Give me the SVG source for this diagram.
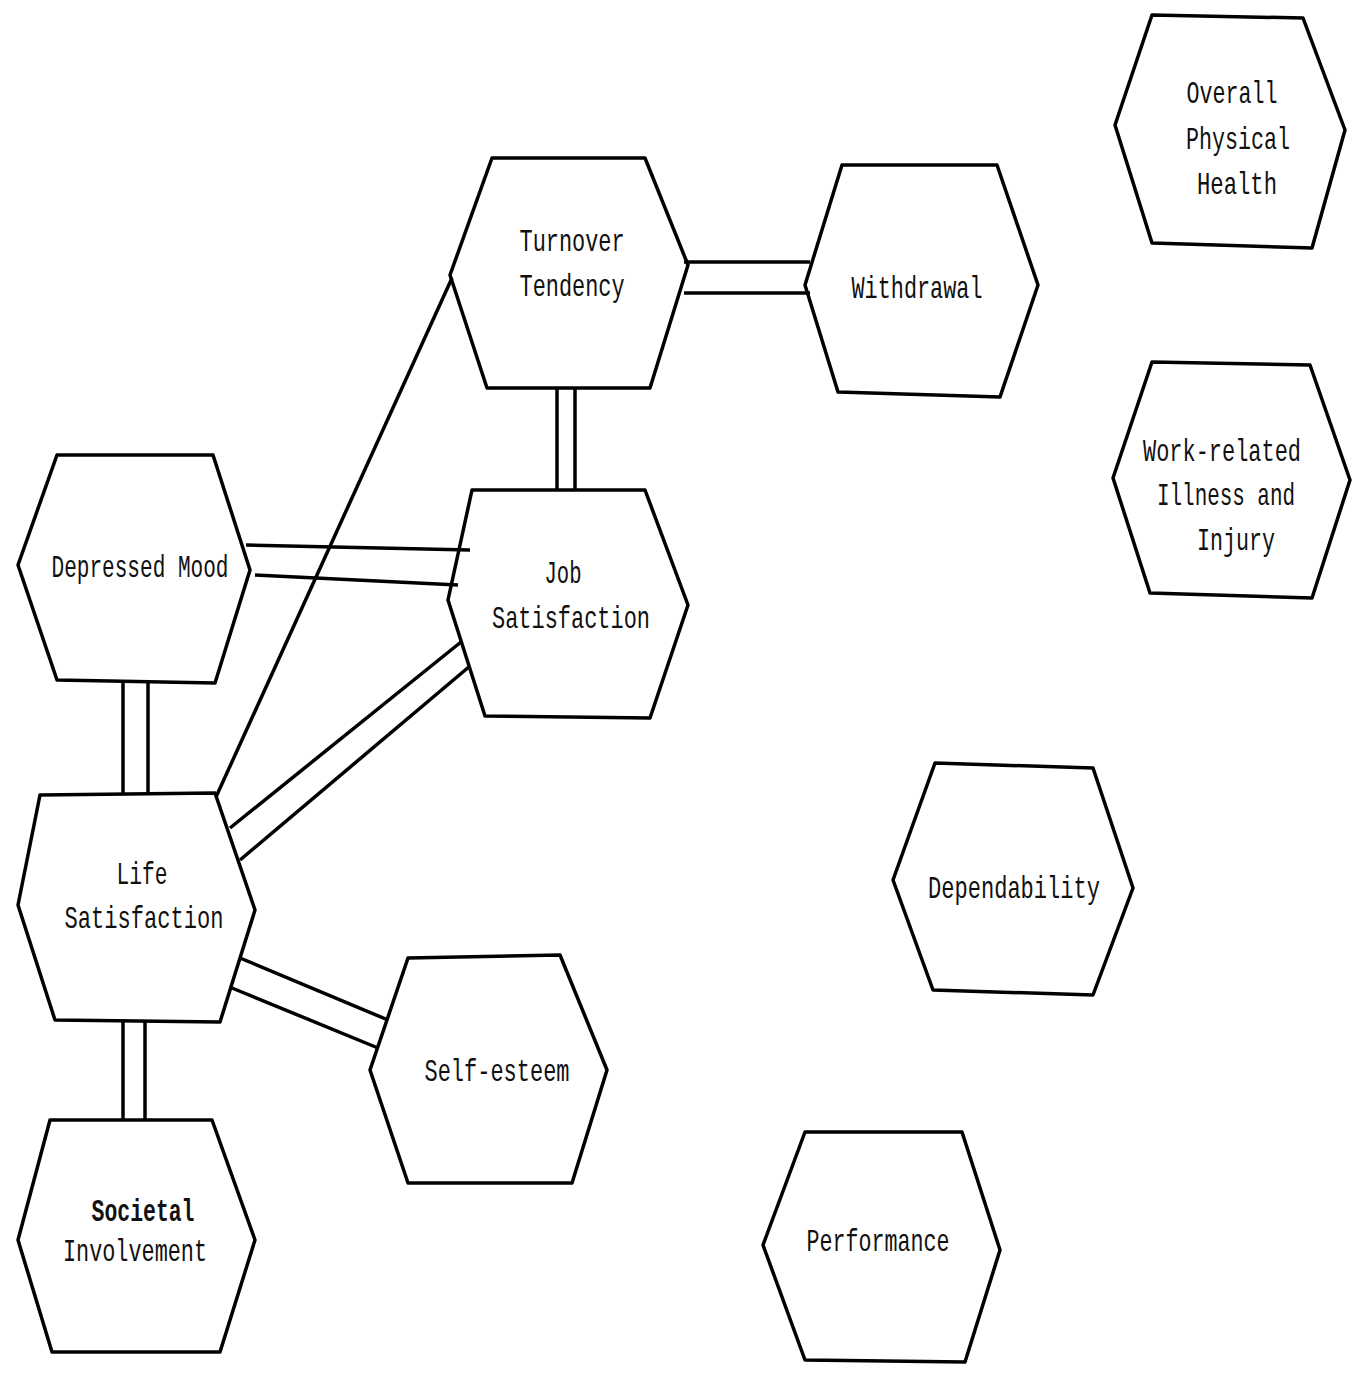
<svg xmlns="http://www.w3.org/2000/svg" width="1356" height="1374" viewBox="0 0 1356 1374">
<style>
.hex{fill:none;stroke:#000;stroke-width:3.5;stroke-linejoin:round}
.c line{stroke:#000;stroke-width:3.5}
text{font-family:"Liberation Mono","DejaVu Sans Mono",monospace;font-size:22px;fill:#111;text-anchor:middle}
</style>
<rect width="1356" height="1374" fill="#fff"/>
<g id="connectors" class="c">
<line x1="684" y1="262" x2="810" y2="262"/>
<line x1="684" y1="293" x2="810" y2="293"/>
<line x1="557" y1="388" x2="557" y2="490"/>
<line x1="575" y1="388" x2="575" y2="490"/>
<line x1="246" y1="545" x2="470" y2="550"/>
<line x1="255" y1="575" x2="458" y2="585"/>
<line x1="123" y1="681" x2="123" y2="793"/>
<line x1="148" y1="681" x2="148" y2="793"/>
<line x1="452" y1="278" x2="216" y2="797"/>
<line x1="461" y1="642" x2="230" y2="828"/>
<line x1="470" y1="666" x2="240" y2="860"/>
<line x1="240" y1="958" x2="388" y2="1020"/>
<line x1="232" y1="988" x2="378" y2="1048"/>
<line x1="123" y1="1021" x2="123" y2="1120"/>
<line x1="145" y1="1021" x2="145" y2="1120"/>
</g>
<g id="turnover">
<polygon class="hex" points="450,275 492,158 645,158 688,265 650,388 487,388"/>
<text transform="translate(572,251) scale(1,1.45)" textLength="105" lengthAdjust="spacingAndGlyphs">Turnover</text>
<text transform="translate(572,296) scale(1,1.45)" textLength="105" lengthAdjust="spacingAndGlyphs">Tendency</text>
</g>
<g id="withdrawal">
<polygon class="hex" points="805,285 842,165 997,165 1038,285 1000,397 838,392"/>
<text transform="translate(917,298) scale(1,1.45)" textLength="131" lengthAdjust="spacingAndGlyphs">Withdrawal</text>
</g>
<g id="health">
<polygon class="hex" points="1115,125 1152,15 1303,18 1345,130 1312,248 1152,243"/>
<text transform="translate(1232,103) scale(1,1.45)" textLength="91" lengthAdjust="spacingAndGlyphs">Overall</text>
<text transform="translate(1238,149) scale(1,1.45)" textLength="104" lengthAdjust="spacingAndGlyphs">Physical</text>
<text transform="translate(1237,194) scale(1,1.45)" textLength="80" lengthAdjust="spacingAndGlyphs">Health</text>
</g>
<g id="illness">
<polygon class="hex" points="1113,478 1152,362 1310,365 1350,480 1312,598 1150,593"/>
<text transform="translate(1222,461) scale(1,1.45)" textLength="158" lengthAdjust="spacingAndGlyphs">Work-related</text>
<text transform="translate(1226,505) scale(1,1.45)" textLength="138" lengthAdjust="spacingAndGlyphs">Illness and</text>
<text transform="translate(1236,550) scale(1,1.45)" textLength="78" lengthAdjust="spacingAndGlyphs">Injury</text>
</g>
<g id="depressed">
<polygon class="hex" points="18,565 57,455 213,455 250,570 215,683 57,680"/>
<text transform="translate(140,577) scale(1,1.45)" textLength="177" lengthAdjust="spacingAndGlyphs">Depressed Mood</text>
</g>
<g id="jobsat">
<polygon class="hex" points="448,600 472,490 645,490 688,605 650,718 485,716"/>
<text transform="translate(563,583) scale(1,1.45)" textLength="37" lengthAdjust="spacingAndGlyphs">Job</text>
<text transform="translate(571,628) scale(1,1.45)" textLength="158" lengthAdjust="spacingAndGlyphs">Satisfaction</text>
</g>
<g id="lifesat">
<polygon class="hex" points="18,905 40,795 215,793 255,910 220,1022 55,1020"/>
<text transform="translate(142,884) scale(1,1.45)" textLength="51" lengthAdjust="spacingAndGlyphs">Life</text>
<text transform="translate(144,928) scale(1,1.45)" textLength="159" lengthAdjust="spacingAndGlyphs">Satisfaction</text>
</g>
<g id="selfesteem">
<polygon class="hex" points="370,1070 408,958 560,955 607,1070 572,1183 408,1183"/>
<text transform="translate(497,1081) scale(1,1.45)" textLength="145" lengthAdjust="spacingAndGlyphs">Self-esteem</text>
</g>
<g id="societal">
<polygon class="hex" points="18,1240 50,1120 212,1120 255,1240 220,1352 52,1352"/>
<text transform="translate(143,1221) scale(1,1.45)" textLength="103" lengthAdjust="spacingAndGlyphs" font-weight="bold">Societal</text>
<text transform="translate(135,1261) scale(1,1.45)" textLength="144" lengthAdjust="spacingAndGlyphs">Involvement</text>
</g>
<g id="dependability">
<polygon class="hex" points="893,880 935,763 1093,768 1133,888 1093,995 933,990"/>
<text transform="translate(1014,898) scale(1,1.45)" textLength="172" lengthAdjust="spacingAndGlyphs">Dependability</text>
</g>
<g id="performance">
<polygon class="hex" points="763,1245 805,1132 962,1132 1000,1250 965,1362 805,1360"/>
<text transform="translate(878,1251) scale(1,1.45)" textLength="143" lengthAdjust="spacingAndGlyphs">Performance</text>
</g>
</svg>
